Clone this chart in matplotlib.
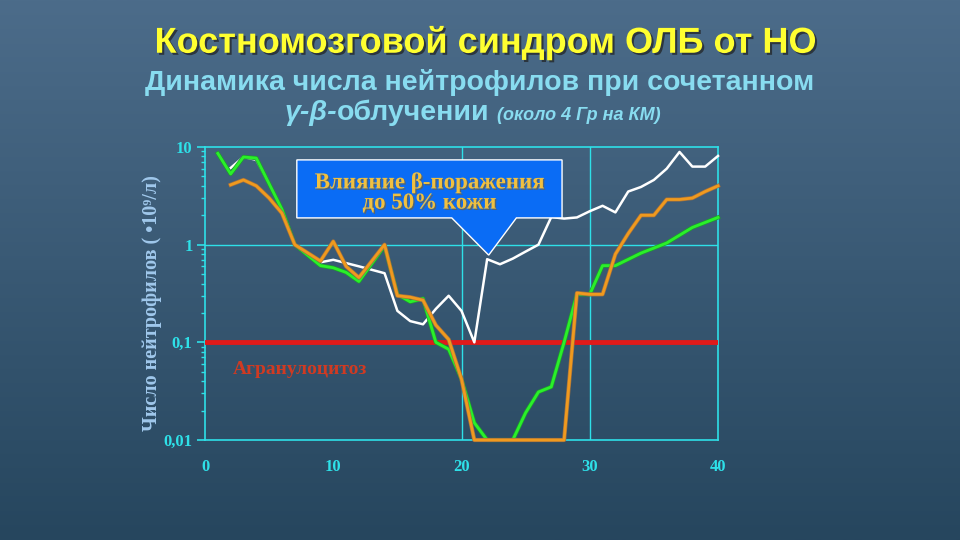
import matplotlib
matplotlib.use("Agg")
import matplotlib.pyplot as plt
import matplotlib.patheffects as pe
from matplotlib.patches import Polygon
from matplotlib.ticker import FixedLocator, LogLocator, NullFormatter
import numpy as np

# neutrophil counts (10^9/l) by day after exposure
white_days = [2, 3, 4, 5, 6, 7, 9, 10, 12, 14, 15, 16, 17, 18, 19, 20, 21, 22, 23, 24, 25, 26,
              27, 28, 29, 30, 31, 32, 33, 34, 35, 36, 37, 38, 39, 40]
white_vals = [6.1, 7.9, 7.4, 4.2, 2.3, 1.0, 0.66, 0.70, 0.60, 0.51, 0.21, 0.165, 0.153, 0.22, 0.30,
              0.21, 0.10, 0.71, 0.63, 0.72, 0.85, 1.0, 1.92, 1.85, 1.9, 2.2, 2.5, 2.14, 3.5, 3.9,
              4.6, 6.0, 8.9, 6.3, 6.3, 8.1]

green_days = [1, 2, 3, 4, 5, 6, 7, 9, 10, 11, 12, 14, 15, 16, 17, 18, 19, 20, 21, 22, 24, 25, 26,
              27, 28, 29, 30, 31, 32, 34, 36, 38, 40]
green_vals = [8.6, 5.3, 7.9, 7.7, 4.2, 2.3, 1.0, 0.61, 0.58, 0.52, 0.42, 0.97, 0.31, 0.26, 0.28,
              0.10, 0.085, 0.042, 0.015, 0.01, 0.01, 0.019, 0.031, 0.035, 0.10, 0.31, 0.31, 0.61,
              0.61, 0.82, 1.04, 1.5, 1.9]

orange_days = [2, 3, 4, 5, 6, 7, 9, 10, 11, 12, 14, 15, 16, 17, 18, 19, 20, 21, 28, 29, 30, 31,
               32, 33, 34, 35, 36, 37, 38, 39, 40]
orange_vals = [4.1, 4.6, 4.0, 3.0, 2.1, 1.0, 0.68, 1.08, 0.6, 0.46, 1.0, 0.30, 0.29, 0.27, 0.15,
               0.107, 0.042, 0.01, 0.01, 0.32, 0.31, 0.31, 0.8, 1.3, 2.0, 2.0, 2.9, 2.9, 3.0, 3.5, 4.0]

agranulocytosis_level = 0.1
y_ticks = [0.01, 0.1, 1, 10]
y_labels = ["0,01", "0,1", "1", "10"]
x_ticks = [0, 10, 20, 30, 40]

title = "Костномозговой синдром ОЛБ от НО"
subtitle1 = "Динамика числа нейтрофилов при сочетанном"
subtitle2_greek = "γ-β-"
subtitle2a = "облучении"
subtitle2b = "(около 4 Гр на КМ)"
callout = "Влияние β-поражения\nдо 50% кожи"
ylabel = "Число нейтрофилов ( •10⁹/л)"

SANS = ["Liberation Sans Narrow", "Liberation Sans", "DejaVu Sans"]
SERIF = ["Liberation Serif", "DejaVu Serif"]
CYAN = "#2ee0e8"
SUB = "#88dcf0"

fig = plt.figure(figsize=(9.6, 5.4), dpi=100)

# gradient background
bg = fig.add_axes([0, 0, 1, 1], zorder=-10)
grad = np.linspace(0, 1, 256).reshape(-1, 1)
top = np.array([76, 108, 138]) / 255
bot = np.array([38, 70, 94]) / 255
img = top + (bot - top) * grad[:, :, None]
bg.imshow(img, aspect="auto", extent=[0, 1, 0, 1])
bg.axis("off")

ax = fig.add_axes([205 / 960, 100 / 540, 513 / 960, 293 / 540])
ax.set_facecolor("none")
ax.set_yscale("log")
ax.set_xlim(0, 40)
ax.set_ylim(0.01, 10)

for s in ax.spines.values():
    s.set_color(CYAN)
    s.set_linewidth(1.2)
for v in [20, 30]:
    ax.axvline(v, color=CYAN, lw=1.0, zorder=1)
for v in [0.1, 1]:
    ax.axhline(v, color=CYAN, lw=1.0, zorder=1)

ax.yaxis.set_major_locator(FixedLocator(y_ticks))
ax.set_yticklabels(y_labels)
ax.yaxis.set_minor_locator(LogLocator(base=10, subs=np.arange(2, 10)))
ax.yaxis.set_minor_formatter(NullFormatter())
ax.set_xticks(x_ticks)
ax.tick_params(axis="both", which="major", colors=CYAN, length=6, width=1.2, labelsize=12)
ax.tick_params(axis="y", which="minor", colors=CYAN, length=3, width=1)
ax.tick_params(axis="x", length=0, pad=14)
ax.tick_params(axis="y", pad=3)
for lab in ax.get_xticklabels() + ax.get_yticklabels():
    lab.set_family(SERIF)
    lab.set_fontweight("bold")
    lab.set_color(CYAN)

ax.axhline(agranulocytosis_level, color="#e01a1a", lw=3.5, zorder=3)

ax.plot(white_days, white_vals, color="white", lw=1.8, zorder=4, clip_on=False)
ax.plot(green_days, green_vals, color="#2af02a", lw=2.0, zorder=5, clip_on=False,
        path_effects=[pe.Stroke(linewidth=3.0, foreground="#1ca02c"), pe.Normal()])
ax.plot(orange_days, orange_vals, color="#f09a1e", lw=2.0, zorder=6, clip_on=False,
        path_effects=[pe.Stroke(linewidth=3.0, foreground="#a07040"), pe.Normal()])

ax.text(2.2, 0.053, "Агранулоцитоз", color="#d03a22", fontsize=14, fontweight="bold",
        family=SERIF, va="center", ha="left", zorder=7)

# callout box with pointer
box = [(0.179, 0.956), (0.696, 0.956), (0.696, 0.758), (0.607, 0.758), (0.553, 0.631),
       (0.481, 0.758), (0.179, 0.758)]
ax.add_patch(Polygon(box, closed=True, transform=ax.transAxes, facecolor="#0a6cf5",
                     edgecolor="white", lw=1.0, zorder=8, clip_on=False))
ax.text(0.437, 0.843, callout, transform=ax.transAxes, ha="center", va="center",
        fontsize=16.5, fontweight="bold", family=SERIF, color="#f0c040", linespacing=0.95,
        zorder=9, path_effects=[pe.withSimplePatchShadow(offset=(1, -1), shadow_rgbFace="#806020", alpha=0.6)])

fig.text(152 / 960, 1 - 303 / 540, ylabel, rotation=90, ha="center", va="center",
         fontsize=14.5, fontweight="bold", family=SERIF, color="#a0c8ec")

fig.text(485 / 960, 1 - 43 / 540, title, ha="center", va="center", fontsize=26,
         fontweight="bold", family=SANS, color="#ffff30",
         path_effects=[pe.withSimplePatchShadow(offset=(1.5, -1.5), shadow_rgbFace="#202020", alpha=0.7)])
fig.text(480 / 960, 1 - 82 / 540, subtitle1, ha="center", va="center", fontsize=20.5,
         fontweight="bold", family=SANS, color=SUB)
fig.text(285 / 960, 1 - 113 / 540, subtitle2_greek, ha="left", va="center", fontsize=20.5,
         fontweight="bold", fontstyle="italic", family=SANS, color=SUB)
fig.text(489 / 960, 1 - 113 / 540, subtitle2a, ha="right", va="center", fontsize=20.5,
         fontweight="bold", family=SANS, color=SUB)
fig.text(497 / 960, 1 - 116 / 540, subtitle2b, ha="left", va="center", fontsize=13,
         fontstyle="italic", fontweight="bold", family=SANS, color=SUB)

fig.savefig("out.png", dpi=100)
